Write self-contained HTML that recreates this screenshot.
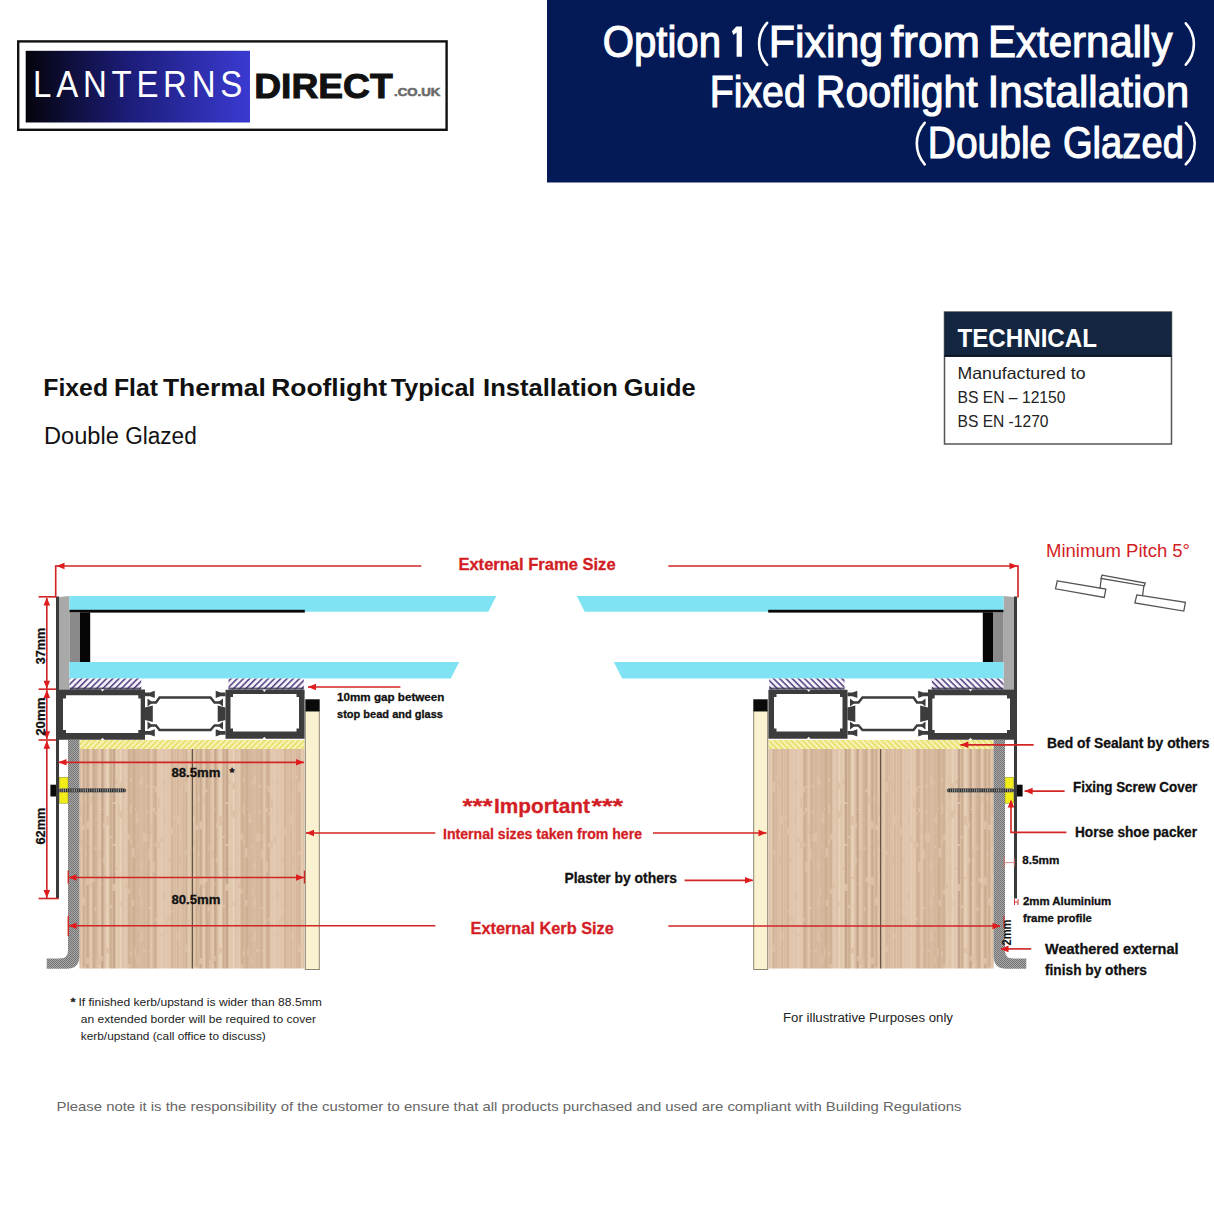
<!DOCTYPE html>
<html><head><meta charset="utf-8">
<style>
html,body{margin:0;padding:0;background:#fff;}
body{width:1214px;height:1214px;overflow:hidden;position:relative;}
svg{position:absolute;left:0;top:0;display:block;}
text{font-family:"Liberation Sans",sans-serif;}
</style></head><body>
<svg width="1214" height="1214" viewBox="0 0 1214 1214">
<defs>
<linearGradient id="lg" x1="0" y1="0" x2="1" y2="0">
<stop offset="0" stop-color="#04040c"/>
<stop offset="0.45" stop-color="#1c1c78"/>
<stop offset="1" stop-color="#3a3ad2"/>
</linearGradient>
<pattern id="wood" patternUnits="userSpaceOnUse" width="113" height="220" x="79.4" y="749">
<rect width="113" height="220" fill="#ddc1a6"/>
<rect x="0.0" y="0" width="0.9" height="68" fill="#a8856a" opacity="0.33"/>
<rect x="0.0" y="72" width="0.9" height="25" fill="#a8856a" opacity="0.33"/>
<rect x="0.0" y="102" width="0.9" height="23" fill="#a8856a" opacity="0.33"/>
<rect x="0.0" y="130" width="0.9" height="26" fill="#a8856a" opacity="0.33"/>
<rect x="0.0" y="157" width="0.9" height="58" fill="#a8856a" opacity="0.33"/>
<rect x="1.5" y="0" width="0.7" height="56" fill="#eedcc8" opacity="0.53"/>
<rect x="1.5" y="65" width="0.7" height="24" fill="#eedcc8" opacity="0.53"/>
<rect x="1.5" y="98" width="0.7" height="46" fill="#eedcc8" opacity="0.53"/>
<rect x="1.5" y="146" width="0.7" height="31" fill="#eedcc8" opacity="0.53"/>
<rect x="1.5" y="179" width="0.7" height="93" fill="#eedcc8" opacity="0.53"/>
<rect x="3.7" y="0" width="1.2" height="76" fill="#a8856a" opacity="0.50"/>
<rect x="3.7" y="81" width="1.2" height="68" fill="#a8856a" opacity="0.50"/>
<rect x="3.7" y="156" width="1.2" height="62" fill="#a8856a" opacity="0.50"/>
<rect x="5.9" y="0" width="0.8" height="47" fill="#b09070" opacity="0.33"/>
<rect x="5.9" y="52" width="0.8" height="51" fill="#b09070" opacity="0.33"/>
<rect x="5.9" y="107" width="0.8" height="75" fill="#b09070" opacity="0.33"/>
<rect x="5.9" y="183" width="0.8" height="66" fill="#b09070" opacity="0.33"/>
<rect x="7.7" y="0" width="1.5" height="72" fill="#a8856a" opacity="0.57"/>
<rect x="7.7" y="80" width="1.5" height="48" fill="#a8856a" opacity="0.57"/>
<rect x="7.7" y="136" width="1.5" height="73" fill="#a8856a" opacity="0.57"/>
<rect x="7.7" y="215" width="1.5" height="61" fill="#a8856a" opacity="0.57"/>
<rect x="11.3" y="0" width="1.0" height="48" fill="#eedcc8" opacity="0.59"/>
<rect x="11.3" y="54" width="1.0" height="81" fill="#eedcc8" opacity="0.59"/>
<rect x="11.3" y="139" width="1.0" height="84" fill="#eedcc8" opacity="0.59"/>
<rect x="13.4" y="0" width="1.5" height="40" fill="#a8856a" opacity="0.47"/>
<rect x="13.4" y="43" width="1.5" height="86" fill="#a8856a" opacity="0.47"/>
<rect x="13.4" y="133" width="1.5" height="103" fill="#a8856a" opacity="0.47"/>
<rect x="15.6" y="0" width="0.9" height="98" fill="#b09070" opacity="0.59"/>
<rect x="15.6" y="101" width="0.9" height="57" fill="#b09070" opacity="0.59"/>
<rect x="15.6" y="162" width="0.9" height="100" fill="#b09070" opacity="0.59"/>
<rect x="17.2" y="0" width="0.7" height="95" fill="#b09070" opacity="0.30"/>
<rect x="17.2" y="97" width="0.7" height="45" fill="#b09070" opacity="0.30"/>
<rect x="17.2" y="143" width="0.7" height="68" fill="#b09070" opacity="0.30"/>
<rect x="17.2" y="218" width="0.7" height="49" fill="#b09070" opacity="0.30"/>
<rect x="19.9" y="0" width="1.5" height="101" fill="#f2e2d0" opacity="0.32"/>
<rect x="19.9" y="109" width="1.5" height="99" fill="#f2e2d0" opacity="0.32"/>
<rect x="19.9" y="215" width="1.5" height="55" fill="#f2e2d0" opacity="0.32"/>
<rect x="22.0" y="0" width="1.2" height="60" fill="#a8856a" opacity="0.64"/>
<rect x="22.0" y="61" width="1.2" height="74" fill="#a8856a" opacity="0.64"/>
<rect x="22.0" y="136" width="1.2" height="71" fill="#a8856a" opacity="0.64"/>
<rect x="22.0" y="212" width="1.2" height="105" fill="#a8856a" opacity="0.64"/>
<rect x="23.7" y="0" width="0.7" height="74" fill="#a38068" opacity="0.63"/>
<rect x="23.7" y="79" width="0.7" height="30" fill="#a38068" opacity="0.63"/>
<rect x="23.7" y="114" width="0.7" height="108" fill="#a38068" opacity="0.63"/>
<rect x="25.4" y="0" width="0.7" height="95" fill="#f2e2d0" opacity="0.41"/>
<rect x="25.4" y="96" width="0.7" height="22" fill="#f2e2d0" opacity="0.41"/>
<rect x="25.4" y="128" width="0.7" height="68" fill="#f2e2d0" opacity="0.41"/>
<rect x="25.4" y="197" width="0.7" height="69" fill="#f2e2d0" opacity="0.41"/>
<rect x="27.4" y="0" width="1.6" height="67" fill="#f2e2d0" opacity="0.64"/>
<rect x="27.4" y="76" width="1.6" height="52" fill="#f2e2d0" opacity="0.64"/>
<rect x="27.4" y="130" width="1.6" height="69" fill="#f2e2d0" opacity="0.64"/>
<rect x="27.4" y="204" width="1.6" height="77" fill="#f2e2d0" opacity="0.64"/>
<rect x="30.8" y="0" width="1.3" height="87" fill="#b09070" opacity="0.59"/>
<rect x="30.8" y="89" width="1.3" height="67" fill="#b09070" opacity="0.59"/>
<rect x="30.8" y="159" width="1.3" height="23" fill="#b09070" opacity="0.59"/>
<rect x="30.8" y="182" width="1.3" height="45" fill="#b09070" opacity="0.59"/>
<rect x="33.8" y="0" width="1.6" height="53" fill="#a38068" opacity="0.63"/>
<rect x="33.8" y="55" width="1.6" height="40" fill="#a38068" opacity="0.63"/>
<rect x="33.8" y="97" width="1.6" height="38" fill="#a38068" opacity="0.63"/>
<rect x="33.8" y="142" width="1.6" height="101" fill="#a38068" opacity="0.63"/>
<rect x="36.6" y="0" width="1.2" height="31" fill="#eedcc8" opacity="0.63"/>
<rect x="36.6" y="35" width="1.2" height="84" fill="#eedcc8" opacity="0.63"/>
<rect x="36.6" y="121" width="1.2" height="100" fill="#eedcc8" opacity="0.63"/>
<rect x="39.4" y="0" width="0.6" height="56" fill="#f2e2d0" opacity="0.46"/>
<rect x="39.4" y="66" width="0.6" height="85" fill="#f2e2d0" opacity="0.46"/>
<rect x="39.4" y="153" width="0.6" height="31" fill="#f2e2d0" opacity="0.46"/>
<rect x="39.4" y="185" width="0.6" height="101" fill="#f2e2d0" opacity="0.46"/>
<rect x="40.6" y="0" width="1.4" height="34" fill="#f2e2d0" opacity="0.67"/>
<rect x="40.6" y="40" width="1.4" height="22" fill="#f2e2d0" opacity="0.67"/>
<rect x="40.6" y="69" width="1.4" height="85" fill="#f2e2d0" opacity="0.67"/>
<rect x="40.6" y="156" width="1.4" height="87" fill="#f2e2d0" opacity="0.67"/>
<rect x="44.2" y="0" width="0.7" height="46" fill="#eedcc8" opacity="0.40"/>
<rect x="44.2" y="49" width="0.7" height="73" fill="#eedcc8" opacity="0.40"/>
<rect x="44.2" y="124" width="0.7" height="58" fill="#eedcc8" opacity="0.40"/>
<rect x="44.2" y="183" width="0.7" height="102" fill="#eedcc8" opacity="0.40"/>
<rect x="46.2" y="0" width="1.1" height="99" fill="#ead6c0" opacity="0.63"/>
<rect x="46.2" y="100" width="1.1" height="34" fill="#ead6c0" opacity="0.63"/>
<rect x="46.2" y="139" width="1.1" height="99" fill="#ead6c0" opacity="0.63"/>
<rect x="48.8" y="0" width="1.4" height="85" fill="#b09070" opacity="0.47"/>
<rect x="48.8" y="91" width="1.4" height="49" fill="#b09070" opacity="0.47"/>
<rect x="48.8" y="145" width="1.4" height="70" fill="#b09070" opacity="0.47"/>
<rect x="50.7" y="0" width="1.1" height="29" fill="#a38068" opacity="0.31"/>
<rect x="50.7" y="33" width="1.1" height="23" fill="#a38068" opacity="0.31"/>
<rect x="50.7" y="65" width="1.1" height="26" fill="#a38068" opacity="0.31"/>
<rect x="50.7" y="94" width="1.1" height="108" fill="#a38068" opacity="0.31"/>
<rect x="50.7" y="207" width="1.1" height="38" fill="#a38068" opacity="0.31"/>
<rect x="53.2" y="0" width="1.4" height="99" fill="#b09070" opacity="0.54"/>
<rect x="53.2" y="108" width="1.4" height="43" fill="#b09070" opacity="0.54"/>
<rect x="53.2" y="157" width="1.4" height="105" fill="#b09070" opacity="0.54"/>
<rect x="55.2" y="0" width="0.6" height="59" fill="#a8856a" opacity="0.53"/>
<rect x="55.2" y="61" width="0.6" height="47" fill="#a8856a" opacity="0.53"/>
<rect x="55.2" y="109" width="0.6" height="90" fill="#a8856a" opacity="0.53"/>
<rect x="55.2" y="208" width="0.6" height="78" fill="#a8856a" opacity="0.53"/>
<rect x="56.7" y="0" width="0.7" height="64" fill="#a8856a" opacity="0.44"/>
<rect x="56.7" y="74" width="0.7" height="95" fill="#a8856a" opacity="0.44"/>
<rect x="56.7" y="170" width="0.7" height="59" fill="#a8856a" opacity="0.44"/>
<rect x="58.4" y="0" width="0.7" height="70" fill="#a38068" opacity="0.31"/>
<rect x="58.4" y="74" width="0.7" height="22" fill="#a38068" opacity="0.31"/>
<rect x="58.4" y="99" width="0.7" height="76" fill="#a38068" opacity="0.31"/>
<rect x="58.4" y="180" width="0.7" height="26" fill="#a38068" opacity="0.31"/>
<rect x="58.4" y="216" width="0.7" height="91" fill="#a38068" opacity="0.31"/>
<rect x="59.7" y="0" width="0.8" height="32" fill="#b09070" opacity="0.39"/>
<rect x="59.7" y="36" width="0.8" height="102" fill="#b09070" opacity="0.39"/>
<rect x="59.7" y="146" width="0.8" height="43" fill="#b09070" opacity="0.39"/>
<rect x="59.7" y="191" width="0.8" height="103" fill="#b09070" opacity="0.39"/>
<rect x="62.1" y="0" width="0.6" height="27" fill="#b09070" opacity="0.45"/>
<rect x="62.1" y="36" width="0.6" height="77" fill="#b09070" opacity="0.45"/>
<rect x="62.1" y="121" width="0.6" height="28" fill="#b09070" opacity="0.45"/>
<rect x="62.1" y="157" width="0.6" height="26" fill="#b09070" opacity="0.45"/>
<rect x="62.1" y="192" width="0.6" height="61" fill="#b09070" opacity="0.45"/>
<rect x="64.1" y="0" width="1.5" height="84" fill="#b09070" opacity="0.32"/>
<rect x="64.1" y="93" width="1.5" height="107" fill="#b09070" opacity="0.32"/>
<rect x="64.1" y="203" width="1.5" height="36" fill="#b09070" opacity="0.32"/>
<rect x="67.2" y="0" width="1.1" height="36" fill="#b89878" opacity="0.48"/>
<rect x="67.2" y="39" width="1.1" height="22" fill="#b89878" opacity="0.48"/>
<rect x="67.2" y="64" width="1.1" height="21" fill="#b89878" opacity="0.48"/>
<rect x="67.2" y="92" width="1.1" height="70" fill="#b89878" opacity="0.48"/>
<rect x="67.2" y="164" width="1.1" height="63" fill="#b89878" opacity="0.48"/>
<rect x="68.8" y="0" width="1.4" height="100" fill="#b89878" opacity="0.49"/>
<rect x="68.8" y="110" width="1.4" height="48" fill="#b89878" opacity="0.49"/>
<rect x="68.8" y="160" width="1.4" height="41" fill="#b89878" opacity="0.49"/>
<rect x="68.8" y="202" width="1.4" height="99" fill="#b89878" opacity="0.49"/>
<rect x="70.9" y="0" width="1.6" height="76" fill="#eedcc8" opacity="0.31"/>
<rect x="70.9" y="85" width="1.6" height="59" fill="#eedcc8" opacity="0.31"/>
<rect x="70.9" y="144" width="1.6" height="80" fill="#eedcc8" opacity="0.31"/>
<rect x="73.8" y="0" width="1.6" height="37" fill="#a38068" opacity="0.32"/>
<rect x="73.8" y="39" width="1.6" height="20" fill="#a38068" opacity="0.32"/>
<rect x="73.8" y="63" width="1.6" height="50" fill="#a38068" opacity="0.32"/>
<rect x="73.8" y="123" width="1.6" height="49" fill="#a38068" opacity="0.32"/>
<rect x="73.8" y="172" width="1.6" height="99" fill="#a38068" opacity="0.32"/>
<rect x="76.1" y="0" width="0.9" height="38" fill="#a38068" opacity="0.48"/>
<rect x="76.1" y="43" width="0.9" height="20" fill="#a38068" opacity="0.48"/>
<rect x="76.1" y="66" width="0.9" height="28" fill="#a38068" opacity="0.48"/>
<rect x="76.1" y="98" width="0.9" height="24" fill="#a38068" opacity="0.48"/>
<rect x="76.1" y="122" width="0.9" height="47" fill="#a38068" opacity="0.48"/>
<rect x="76.1" y="172" width="0.9" height="73" fill="#a38068" opacity="0.48"/>
<rect x="78.7" y="0" width="1.2" height="49" fill="#f2e2d0" opacity="0.46"/>
<rect x="78.7" y="59" width="1.2" height="33" fill="#f2e2d0" opacity="0.46"/>
<rect x="78.7" y="100" width="1.2" height="78" fill="#f2e2d0" opacity="0.46"/>
<rect x="78.7" y="178" width="1.2" height="95" fill="#f2e2d0" opacity="0.46"/>
<rect x="81.5" y="0" width="1.3" height="88" fill="#eedcc8" opacity="0.66"/>
<rect x="81.5" y="93" width="1.3" height="93" fill="#eedcc8" opacity="0.66"/>
<rect x="81.5" y="187" width="1.3" height="82" fill="#eedcc8" opacity="0.66"/>
<rect x="84.5" y="0" width="1.6" height="32" fill="#eedcc8" opacity="0.31"/>
<rect x="84.5" y="36" width="1.6" height="29" fill="#eedcc8" opacity="0.31"/>
<rect x="84.5" y="73" width="1.6" height="70" fill="#eedcc8" opacity="0.31"/>
<rect x="84.5" y="150" width="1.6" height="76" fill="#eedcc8" opacity="0.31"/>
<rect x="87.3" y="0" width="0.5" height="101" fill="#f2e2d0" opacity="0.67"/>
<rect x="87.3" y="102" width="0.5" height="67" fill="#f2e2d0" opacity="0.67"/>
<rect x="87.3" y="177" width="0.5" height="63" fill="#f2e2d0" opacity="0.67"/>
<rect x="89.7" y="0" width="0.8" height="108" fill="#eedcc8" opacity="0.60"/>
<rect x="89.7" y="113" width="0.8" height="54" fill="#eedcc8" opacity="0.60"/>
<rect x="89.7" y="172" width="0.8" height="82" fill="#eedcc8" opacity="0.60"/>
<rect x="92.0" y="0" width="1.2" height="79" fill="#b09070" opacity="0.42"/>
<rect x="92.0" y="86" width="1.2" height="76" fill="#b09070" opacity="0.42"/>
<rect x="92.0" y="163" width="1.2" height="63" fill="#b09070" opacity="0.42"/>
<rect x="95.3" y="0" width="0.6" height="66" fill="#b89878" opacity="0.40"/>
<rect x="95.3" y="71" width="0.6" height="62" fill="#b89878" opacity="0.40"/>
<rect x="95.3" y="134" width="0.6" height="100" fill="#b89878" opacity="0.40"/>
<rect x="98.1" y="0" width="1.5" height="66" fill="#b89878" opacity="0.33"/>
<rect x="98.1" y="76" width="1.5" height="109" fill="#b89878" opacity="0.33"/>
<rect x="98.1" y="189" width="1.5" height="102" fill="#b89878" opacity="0.33"/>
<rect x="100.2" y="0" width="0.6" height="32" fill="#ead6c0" opacity="0.68"/>
<rect x="100.2" y="40" width="0.6" height="66" fill="#ead6c0" opacity="0.68"/>
<rect x="100.2" y="115" width="0.6" height="83" fill="#ead6c0" opacity="0.68"/>
<rect x="100.2" y="200" width="0.6" height="101" fill="#ead6c0" opacity="0.68"/>
<rect x="101.2" y="0" width="0.5" height="85" fill="#b89878" opacity="0.44"/>
<rect x="101.2" y="90" width="0.5" height="54" fill="#b89878" opacity="0.44"/>
<rect x="101.2" y="145" width="0.5" height="50" fill="#b89878" opacity="0.44"/>
<rect x="101.2" y="198" width="0.5" height="50" fill="#b89878" opacity="0.44"/>
<rect x="103.8" y="0" width="0.7" height="26" fill="#a38068" opacity="0.39"/>
<rect x="103.8" y="30" width="0.7" height="98" fill="#a38068" opacity="0.39"/>
<rect x="103.8" y="129" width="0.7" height="103" fill="#a38068" opacity="0.39"/>
<rect x="106.5" y="0" width="0.8" height="33" fill="#a38068" opacity="0.52"/>
<rect x="106.5" y="43" width="0.8" height="59" fill="#a38068" opacity="0.52"/>
<rect x="106.5" y="106" width="0.8" height="90" fill="#a38068" opacity="0.52"/>
<rect x="106.5" y="203" width="0.8" height="58" fill="#a38068" opacity="0.52"/>
<rect x="109.0" y="0" width="0.9" height="85" fill="#f2e2d0" opacity="0.52"/>
<rect x="109.0" y="85" width="0.9" height="86" fill="#f2e2d0" opacity="0.52"/>
<rect x="109.0" y="176" width="0.9" height="88" fill="#f2e2d0" opacity="0.52"/>
<rect x="110.9" y="0" width="0.6" height="57" fill="#eedcc8" opacity="0.37"/>
<rect x="110.9" y="60" width="0.6" height="43" fill="#eedcc8" opacity="0.37"/>
<rect x="110.9" y="111" width="0.6" height="79" fill="#eedcc8" opacity="0.37"/>
<rect x="110.9" y="193" width="0.6" height="41" fill="#eedcc8" opacity="0.37"/>
</pattern>
<pattern id="yh" patternUnits="userSpaceOnUse" width="4" height="4" patternTransform="rotate(45)">
<rect width="4" height="4" fill="#e9e170"/>
<rect width="1.7" height="4" fill="#faf5c6"/>
</pattern>
<pattern id="ph" patternUnits="userSpaceOnUse" width="4.4" height="4.4" patternTransform="rotate(45)">
<rect width="4.4" height="4.4" fill="#f6f2fb"/>
<rect width="1.5" height="4.4" fill="#4e3c7c"/>
</pattern>
<pattern id="gp" patternUnits="userSpaceOnUse" width="2" height="2">
<rect width="2" height="2" fill="#a8a8a8"/>
<rect width="1" height="1" fill="#747474"/>
<rect x="1" y="1" width="1" height="1" fill="#747474"/>
</pattern>
<pattern id="sc" patternUnits="userSpaceOnUse" width="2.2" height="4">
<rect width="2.2" height="4" fill="#aaa"/>
<rect width="1.2" height="4" fill="#222"/>
</pattern>
</defs>
<rect x="0" y="0" width="1214" height="1214" fill="#ffffff"/>

<!-- LOGO -->
<rect x="18.2" y="41.4" width="428.4" height="88.4" fill="#fff" stroke="#111" stroke-width="2.4"/>
<rect x="25.7" y="50.8" width="224.3" height="71.7" fill="url(#lg)"/>
<text x="32.8" y="97.5" font-size="37.5" fill="#fff" textLength="237.7" lengthAdjust="spacing" transform="translate(35.3,0) scale(0.88,1) translate(-35.3,0)">LANTERNS</text>
<text x="254.2" y="98" font-size="34.5" font-weight="bold" fill="#111" stroke="#111" stroke-width="1" textLength="138.5" lengthAdjust="spacingAndGlyphs">DIRECT</text>
<text x="394" y="95.7" font-size="11.7" font-weight="bold" fill="#6a6a6a" stroke="#6a6a6a" stroke-width="0.6" textLength="46.2" lengthAdjust="spacingAndGlyphs">.CO.UK</text>

<!-- HEADER -->
<rect x="547" y="0" width="667" height="182.5" fill="#031a57"/>
<text x="602.65" y="57.4" font-size="44" fill="#fff" stroke="#fff" stroke-width="1.1" textLength="118.41" lengthAdjust="spacingAndGlyphs">Option</text>
<text x="768.83" y="57.4" font-size="44" fill="#fff" stroke="#fff" stroke-width="1.1" textLength="114.38" lengthAdjust="spacingAndGlyphs">Fixing</text>
<text x="890.72" y="57.4" font-size="44" fill="#fff" stroke="#fff" stroke-width="1.1" textLength="89.27" lengthAdjust="spacingAndGlyphs">from</text>
<text x="988.11" y="57.4" font-size="44" fill="#fff" stroke="#fff" stroke-width="1.1" textLength="184.33" lengthAdjust="spacingAndGlyphs">Externally</text>
<text x="709.73" y="106.6" font-size="44" fill="#fff" stroke="#fff" stroke-width="1.1" textLength="96.05" lengthAdjust="spacingAndGlyphs">Fixed</text>
<text x="815.78" y="106.6" font-size="44" fill="#fff" stroke="#fff" stroke-width="1.1" textLength="161.97" lengthAdjust="spacingAndGlyphs">Rooflight</text>
<text x="987.45" y="106.6" font-size="44" fill="#fff" stroke="#fff" stroke-width="1.1" textLength="201.84" lengthAdjust="spacingAndGlyphs">Installation</text>
<text x="927.86" y="157.5" font-size="44" fill="#fff" stroke="#fff" stroke-width="1.1" textLength="123.32" lengthAdjust="spacingAndGlyphs">Double</text>
<text x="1062.93" y="157.5" font-size="44" fill="#fff" stroke="#fff" stroke-width="1.1" textLength="120.98" lengthAdjust="spacingAndGlyphs">Glazed</text>
<polygon points="736.4,26.4 741.9,26.4 741.9,56.8 736.6,56.8 736.6,32.6 733.4,35 731.9,31.2" fill="#fff"/>
<path d="M767.10,22.80 A31.69,31.69 0 0 0 767.10,64.90" fill="none" stroke="#fff" stroke-width="2.6" stroke-linecap="round"/>
<path d="M1185.80,23.30 A30.50,30.50 0 0 1 1185.80,64.70" fill="none" stroke="#fff" stroke-width="2.6" stroke-linecap="round"/>
<path d="M924.70,122.80 A31.20,31.20 0 0 0 924.70,164.30" fill="none" stroke="#fff" stroke-width="2.6" stroke-linecap="round"/>
<path d="M1185.80,122.80 A28.64,28.64 0 0 1 1185.80,164.30" fill="none" stroke="#fff" stroke-width="2.6" stroke-linecap="round"/>


<!-- HEADINGS -->
<text x="43.34" y="396" font-size="24" fill="#111" font-weight="bold" textLength="64.69" lengthAdjust="spacingAndGlyphs">Fixed</text>
<text x="113.95" y="396" font-size="24" fill="#111" font-weight="bold" textLength="43.96" lengthAdjust="spacingAndGlyphs">Flat</text>
<text x="162.9" y="396" font-size="24" fill="#111" font-weight="bold" textLength="102.97" lengthAdjust="spacingAndGlyphs">Thermal</text>
<text x="271.23" y="396" font-size="24" fill="#111" font-weight="bold" textLength="115.89" lengthAdjust="spacingAndGlyphs">Rooflight</text>
<text x="390.72" y="396" font-size="24" fill="#111" font-weight="bold" textLength="84.61" lengthAdjust="spacingAndGlyphs">Typical</text>
<text x="483.09" y="396" font-size="24" fill="#111" font-weight="bold" textLength="134.89" lengthAdjust="spacingAndGlyphs">Installation</text>
<text x="623.76" y="396" font-size="24" fill="#111" font-weight="bold" textLength="71.91" lengthAdjust="spacingAndGlyphs">Guide</text>

<text x="43.96" y="443.7" font-size="23" fill="#111" textLength="74.89" lengthAdjust="spacingAndGlyphs">Double</text>
<text x="125.16" y="443.7" font-size="23" fill="#111" textLength="71.59" lengthAdjust="spacingAndGlyphs">Glazed</text>


<!-- TECHNICAL -->
<rect x="944.5" y="312" width="227" height="132" fill="#fff" stroke="#555" stroke-width="1.5"/>
<rect x="944.5" y="312" width="227" height="44.7" fill="#13253f"/>
<rect x="944.5" y="355" width="227" height="1.8" fill="#0b1320"/>
<text x="957.5" y="347" font-size="25.5" font-weight="bold" fill="#fff" textLength="139.5" lengthAdjust="spacingAndGlyphs">TECHNICAL</text>
<text x="957.5" y="379.2" font-size="16.5" fill="#222" textLength="128" lengthAdjust="spacingAndGlyphs">Manufactured to</text>
<text x="957.5" y="403" font-size="16.5" fill="#222" textLength="108" lengthAdjust="spacingAndGlyphs">BS EN – 12150</text>
<text x="957.5" y="426.6" font-size="16.5" fill="#222" textLength="91" lengthAdjust="spacingAndGlyphs">BS EN -1270</text>

<g id="secL">
<rect x="79.4" y="749" width="225.1" height="219.5" fill="url(#wood)"/>
<line x1="192.3" y1="749" x2="192.3" y2="968.5" stroke="#4a3c30" stroke-width="1"/>
<rect x="79.4" y="740" width="225.1" height="9" fill="url(#yh)"/>
<path d="M68,740 L79.4,740 L79.4,956 Q79.4,968.7 66.7,968.7 L46.7,968.7 L46.7,958.5 L60,958.5 Q68,958.5 68,950.5 Z" fill="url(#gp)"/>
<rect x="305.3" y="711" width="14" height="258.5" fill="#f9f1cf" stroke="#8a8672" stroke-width="1"/>
<rect x="305.3" y="699.3" width="14.4" height="12" fill="#0a0a0a"/>
<rect x="56" y="596.5" width="3" height="302" fill="#3a3a3a"/>
<polygon points="59,597 69.5,596 69.5,689.5 59,689.5" fill="#a9a9a9"/>
<polygon points="69.5,596 496.3,596 488.3,611.8 69.5,611.8" fill="#80e3f3"/>
<polygon points="69.5,662 459.2,662 450.8,678.5 69.5,678.5" fill="#80e3f3"/>
<rect x="69.5" y="609.8" width="235.3" height="2.8" fill="#080808"/>
<rect x="69.5" y="612.4" width="10.5" height="49.6" fill="#8a8a8a"/>
<rect x="80" y="612.4" width="10.2" height="49.6" fill="#050505"/>
<rect x="69.5" y="678.5" width="71.7" height="11" fill="url(#ph)"/>
<rect x="228.5" y="678.5" width="75.3" height="11" fill="url(#ph)"/>
<rect x="69.5" y="687.6" width="71.7" height="2" fill="#3d3350" opacity="0.8"/>
<rect x="228.5" y="687.6" width="75.3" height="2" fill="#3d3350" opacity="0.8"/>
<path fill-rule="evenodd" fill="#3c3c3c" d="M56,689.5 H145 V739.8 H56 Z M66,695.3 H138.3 V698.5 H140.7 V730 H138.3 V733 H66 V730 H63 V698.5 H66 Z"/>
<path fill-rule="evenodd" fill="#3c3c3c" d="M225.5,689.8 H304.6 V738.8 H225.5 Z M233,694 H296.5 V697 H299 V728.5 H296.5 V731.5 H233 V728.5 H230.5 V697 H233 Z"/>
<polygon points="100.6,689.3 104.4,689.3 102.5,691.6" fill="#fff"/>
<polygon points="100.6,740 104.4,740 102.5,737.7" fill="#fff"/>
<polygon points="262.4,689.6 266.2,689.6 264.3,691.9" fill="#fff"/>
<polygon points="262.4,739 266.2,739 264.3,736.7" fill="#fff"/>
<path fill="#3c3c3c" d="M145,692.5 H150 L154.8,690.8 V698 L150,696.3 H145 Z"/>
<path fill="#3c3c3c" d="M145,731 H150 L154.8,729.3 V736.5 L150,734.8 H145 Z"/>
<path fill="#3c3c3c" d="M145,707.5 L152.8,705.5 V722 L145,720 Z"/>
<path fill="#3c3c3c" d="M225.5,692.5 H220.5 L215.7,690.8 V698 L220.5,696.3 H225.5 Z"/>
<path fill="#3c3c3c" d="M225.5,731 H220.5 L215.7,729.3 V736.5 L220.5,734.8 H225.5 Z"/>
<path fill="#3c3c3c" d="M225.5,707.5 L217.7,705.5 V722 L225.5,720 Z"/>
<path fill="none" stroke="#3c3c3c" stroke-width="2.4" d="M149,702.5 H156 L159.5,697.5 H210.5 L214.5,702.5 H221.5 M149,725.5 H156 L159.5,730 H210.5 L214.5,725.5 H221.5"/>
<path fill="#3c3c3c" d="M147.5,698.5 L151.5,701.5 V703.5 L147.5,706.5 Z M147.5,721.5 L151.5,724.5 V726.5 L147.5,729.5 Z"/>
<path fill="#3c3c3c" d="M223,698.5 L219,701.5 V703.5 L223,706.5 Z M223,721.5 L219,724.5 V726.5 L223,729.5 Z"/>
<rect x="59" y="788.8" width="66.8" height="3.2" rx="1.6" fill="url(#sc)" stroke="#333" stroke-width="0.6"/>
<rect x="59.4" y="777.3" width="8.6" height="11" fill="#f2ec18" stroke="#8a8a20" stroke-width="0.5"/>
<rect x="59.4" y="792.2" width="8.6" height="11" fill="#f2ec18" stroke="#8a8a20" stroke-width="0.5"/>
<rect x="50.4" y="784.7" width="5.6" height="11.8" fill="#0a0a0a"/>
</g>
<use href="#secL" transform="translate(1073,0) scale(-1,1)"/>
<line x1="55.7" y1="565.2" x2="55.7" y2="597.5" stroke="#d12626" stroke-width="1.65"/>
<line x1="38.6" y1="596.8" x2="56" y2="596.8" stroke="#d12626" stroke-width="1.65"/>
<line x1="56" y1="566" x2="421.3" y2="566" stroke="#d12626" stroke-width="1.65"/>
<polygon points="56.5,566 64.5,562.7 64.5,569.3" fill="#e01b1d"/>
<line x1="668.3" y1="566" x2="1018" y2="566" stroke="#d12626" stroke-width="1.65"/>
<polygon points="1017.5,566 1009.5,562.7 1009.5,569.3" fill="#e01b1d"/>
<line x1="1018" y1="565.2" x2="1018" y2="597.5" stroke="#d12626" stroke-width="1.65"/>
<line x1="46.8" y1="598" x2="46.8" y2="739" stroke="#d12626" stroke-width="1.65"/>
<polygon points="46.8,597.5 43.5,605.5 50.099999999999994,605.5" fill="#e01b1d"/>
<polygon points="46.8,688.8 43.5,680.8 50.099999999999994,680.8" fill="#e01b1d"/>
<line x1="38.6" y1="689.2" x2="56" y2="689.2" stroke="#d12626" stroke-width="1.65"/>
<polygon points="46.8,690 43.5,698 50.099999999999994,698" fill="#e01b1d"/>
<polygon points="46.8,739.3 43.5,731.3 50.099999999999994,731.3" fill="#e01b1d"/>
<line x1="38.6" y1="740" x2="56" y2="740" stroke="#d12626" stroke-width="1.65"/>
<line x1="46.8" y1="741" x2="46.8" y2="898" stroke="#d12626" stroke-width="1.65"/>
<polygon points="46.8,740.8 43.5,748.8 50.099999999999994,748.8" fill="#e01b1d"/>
<polygon points="46.8,898 43.5,890 50.099999999999994,890" fill="#e01b1d"/>
<line x1="38.6" y1="898.5" x2="58.7" y2="898.5" stroke="#d12626" stroke-width="1.65"/>
<line x1="58.5" y1="762.3" x2="304" y2="762.3" stroke="#d12626" stroke-width="1.65"/>
<polygon points="58.5,762.3 66.5,759.0 66.5,765.5999999999999" fill="#e01b1d"/>
<polygon points="304,762.3 296,759.0 296,765.5999999999999" fill="#e01b1d"/>
<line x1="68.3" y1="877.5" x2="304" y2="877.5" stroke="#d12626" stroke-width="1.65"/>
<polygon points="68.5,877.5 76.5,874.2 76.5,880.8" fill="#e01b1d"/>
<polygon points="304,877.5 296,874.2 296,880.8" fill="#e01b1d"/>
<line x1="68.3" y1="870.6" x2="68.3" y2="883.5" stroke="#d12626" stroke-width="1.4"/>
<line x1="304.5" y1="870.6" x2="304.5" y2="883.5" stroke="#d12626" stroke-width="1.4"/>
<line x1="68.3" y1="925.7" x2="435.3" y2="925.7" stroke="#d12626" stroke-width="1.65"/>
<polygon points="68.5,925.7 76.5,922.4000000000001 76.5,929.0" fill="#e01b1d"/>
<line x1="68.3" y1="915.8" x2="68.3" y2="936" stroke="#d12626" stroke-width="1.4"/>
<line x1="668.3" y1="926" x2="1000" y2="926" stroke="#d12626" stroke-width="1.65"/>
<polygon points="1000.5,926 992.5,922.7 992.5,929.3" fill="#e01b1d"/>
<line x1="306" y1="833" x2="435.3" y2="833" stroke="#d12626" stroke-width="1.65"/>
<polygon points="306,833 314,829.7 314,836.3" fill="#e01b1d"/>
<line x1="653" y1="833" x2="766.5" y2="833" stroke="#d12626" stroke-width="1.65"/>
<polygon points="766.5,833 758.5,829.7 758.5,836.3" fill="#e01b1d"/>
<line x1="684.6" y1="880.3" x2="752.8" y2="880.3" stroke="#d12626" stroke-width="1.65"/>
<polygon points="753,880.3 745,877.0 745,883.5999999999999" fill="#e01b1d"/>
<line x1="308" y1="687" x2="400.4" y2="687" stroke="#d12626" stroke-width="1.65"/>
<polygon points="308,687 316,683.7 316,690.3" fill="#e01b1d"/>
<line x1="960.3" y1="744.8" x2="1033.7" y2="744.8" stroke="#d12626" stroke-width="1.65"/>
<polygon points="960.3,744.8 968.3,741.5 968.3,748.0999999999999" fill="#e01b1d"/>
<line x1="1024.6" y1="791.1" x2="1064.6" y2="791.1" stroke="#d12626" stroke-width="1.65"/>
<polygon points="1024.6,791.1 1032.6,787.8000000000001 1032.6,794.4" fill="#e01b1d"/>
<polyline points="1066.4,832.4 1011,832.4 1011,801" fill="none" stroke="#d12626" stroke-width="1.6"/>
<polygon points="1011,799.5 1007.7,807.5 1014.3,807.5" fill="#e01b1d"/>
<line x1="1031.2" y1="948.9" x2="1001" y2="948.9" stroke="#d12626" stroke-width="1.65"/>
<polygon points="1000.5,948.9 1008.5,945.6 1008.5,952.1999999999999" fill="#e01b1d"/>
<line x1="1004.3" y1="862.6" x2="1014.5" y2="862.6" stroke="#d86a6a" stroke-width="0.8"/>
<line x1="1004.3" y1="857" x2="1004.3" y2="869" stroke="#d86a6a" stroke-width="0.8"/>
<line x1="1014.3" y1="858" x2="1014.3" y2="867" stroke="#d86a6a" stroke-width="0.8"/>
<line x1="1014.5" y1="902" x2="1018" y2="902" stroke="#d12626" stroke-width="0.9"/>
<line x1="1014.5" y1="899" x2="1014.5" y2="905" stroke="#d12626" stroke-width="0.9"/>
<line x1="1018" y1="899" x2="1018" y2="905" stroke="#d12626" stroke-width="0.9"/>
<line x1="1003.9" y1="916" x2="1003.9" y2="928" stroke="#d12626" stroke-width="1.0"/>
<g fill="#fff" stroke="#555" stroke-width="1.3"><polygon points="1057.3,580.8 1105.8,589.1 1104.3,597.4 1055.5,588.8"/><polygon points="1136.8,594.9 1185.4,602.4 1183.8,611.1 1134.9,603"/><polygon points="1102,575.2 1145.2,583 1144.4,585.8 1101,578.5"/><polyline fill="none" points="1101.2,578.5 1100,588.6"/><polyline fill="none" points="1143.8,585.8 1142.6,595.6"/></g>
<g font-family="Liberation Sans, sans-serif"><text x="458.4" y="570.3" font-size="16.5" fill="#d31d25" font-weight="bold" stroke="#d31d25" stroke-width="0.3" textLength="157.2" lengthAdjust="spacingAndGlyphs" >External Frame Size</text>
<text x="462.47" y="813.4" font-size="20" fill="#d31d25" stroke="#d31d25" stroke-width="0.3" font-weight="bold" textLength="30.2" lengthAdjust="spacingAndGlyphs">***</text>
<text x="494.06" y="813.4" font-size="20" fill="#d31d25" stroke="#d31d25" stroke-width="0.3" font-weight="bold" textLength="95.95" lengthAdjust="spacingAndGlyphs">Important</text>
<text x="591.47" y="813.4" font-size="20" fill="#d31d25" stroke="#d31d25" stroke-width="0.3" font-weight="bold" textLength="31.71" lengthAdjust="spacingAndGlyphs">***</text>
<text x="443" y="838.6" font-size="14.5" fill="#d31d25" font-weight="bold" stroke="#d31d25" stroke-width="0.3" textLength="199" lengthAdjust="spacingAndGlyphs" >Internal sizes taken from here</text>
<text x="470.5" y="934" font-size="16.5" fill="#d31d25" font-weight="bold" stroke="#d31d25" stroke-width="0.3" textLength="143.3" lengthAdjust="spacingAndGlyphs" >External Kerb Size</text>
<text x="1046" y="557.3" font-size="17.5" fill="#d31d25" textLength="144" lengthAdjust="spacingAndGlyphs" >Minimum Pitch 5°</text>
<text x="337" y="701" font-size="11.5" fill="#111" font-weight="bold" stroke="#111" stroke-width="0.3" textLength="107.4" lengthAdjust="spacingAndGlyphs" >10mm gap between</text>
<text x="337" y="718" font-size="11.5" fill="#111" font-weight="bold" stroke="#111" stroke-width="0.3" textLength="106" lengthAdjust="spacingAndGlyphs" >stop bead and glass</text>
<text x="171.4" y="776.8" font-size="13" fill="#111" font-weight="bold" stroke="#111" stroke-width="0.3" textLength="49" lengthAdjust="spacingAndGlyphs" >88.5mm</text>
<text x="229.5" y="776.8" font-size="13" fill="#111" font-weight="bold" stroke="#111" stroke-width="0.3" textLength="5" lengthAdjust="spacingAndGlyphs" >*</text>
<text x="171.4" y="904" font-size="13" fill="#111" font-weight="bold" stroke="#111" stroke-width="0.3" textLength="49" lengthAdjust="spacingAndGlyphs" >80.5mm</text>
<text x="564.5" y="883" font-size="14" fill="#111" font-weight="bold" stroke="#111" stroke-width="0.3" textLength="112.5" lengthAdjust="spacingAndGlyphs" >Plaster by others</text>
<text x="1047" y="748.2" font-size="14" fill="#111" font-weight="bold" stroke="#111" stroke-width="0.3" textLength="162.5" lengthAdjust="spacingAndGlyphs" >Bed of Sealant by others</text>
<text x="1073" y="791.8" font-size="14" fill="#111" font-weight="bold" stroke="#111" stroke-width="0.3" textLength="124.3" lengthAdjust="spacingAndGlyphs" >Fixing Screw Cover</text>
<text x="1075" y="836.9" font-size="14" fill="#111" font-weight="bold" stroke="#111" stroke-width="0.3" textLength="122" lengthAdjust="spacingAndGlyphs" >Horse shoe packer</text>
<text x="1022.3" y="863.8" font-size="11.5" fill="#111" font-weight="bold" stroke="#111" stroke-width="0.3" textLength="37" lengthAdjust="spacingAndGlyphs" >8.5mm</text>
<text x="1022.9" y="905.4" font-size="11.5" fill="#111" font-weight="bold" stroke="#111" stroke-width="0.3" textLength="88.3" lengthAdjust="spacingAndGlyphs" >2mm Aluminium</text>
<text x="1022.9" y="922.2" font-size="11.5" fill="#111" font-weight="bold" stroke="#111" stroke-width="0.3" textLength="69" lengthAdjust="spacingAndGlyphs" >frame profile</text>
<text x="1045" y="953.8" font-size="14.5" fill="#111" font-weight="bold" stroke="#111" stroke-width="0.3" textLength="133.5" lengthAdjust="spacingAndGlyphs" >Weathered external</text>
<text x="1045" y="975" font-size="14.5" fill="#111" font-weight="bold" stroke="#111" stroke-width="0.3" textLength="102" lengthAdjust="spacingAndGlyphs" >finish by others</text>
<text x="0" y="0" font-size="13" font-weight="bold" fill="#111" stroke="#111" stroke-width="0.3" textLength="36.4" lengthAdjust="spacingAndGlyphs" transform="translate(45.1,664.2) rotate(-90)">37mm</text>
<text x="0" y="0" font-size="13" font-weight="bold" fill="#111" stroke="#111" stroke-width="0.3" textLength="38.5" lengthAdjust="spacingAndGlyphs" transform="translate(45.1,735.8) rotate(-90)">20mm</text>
<text x="0" y="0" font-size="13" font-weight="bold" fill="#111" stroke="#111" stroke-width="0.3" textLength="37" lengthAdjust="spacingAndGlyphs" transform="translate(45.1,844.6) rotate(-90)">62mm</text>
<text x="0" y="0" font-size="12" font-weight="bold" fill="#111" textLength="26" lengthAdjust="spacingAndGlyphs" transform="translate(1011,945.5) rotate(-90)">2mm</text>
<text x="70.4" y="1006.2" font-size="11.5" fill="#222" font-weight="bold" stroke="#222" stroke-width="0.3" textLength="5" lengthAdjust="spacingAndGlyphs" >*</text>
<text x="78.4" y="1006.2" font-size="11.5" fill="#222" textLength="243.4" lengthAdjust="spacingAndGlyphs" >If finished kerb/upstand is wider than 88.5mm</text>
<text x="80.8" y="1023" font-size="11.5" fill="#222" textLength="235.2" lengthAdjust="spacingAndGlyphs" >an extended border will be required to cover</text>
<text x="80.8" y="1040.3" font-size="11.5" fill="#222" textLength="185" lengthAdjust="spacingAndGlyphs" >kerb/upstand (call office to discuss)</text>
<text x="783" y="1022.4" font-size="12.5" fill="#222" textLength="170" lengthAdjust="spacingAndGlyphs" >For illustrative Purposes only</text>
<text x="56.5" y="1110.5" font-size="13" fill="#666" textLength="905" lengthAdjust="spacingAndGlyphs" >Please note it is the responsibility of the customer to ensure that all products purchased and used are compliant with Building Regulations</text>
</g>

</svg>
</body></html>
